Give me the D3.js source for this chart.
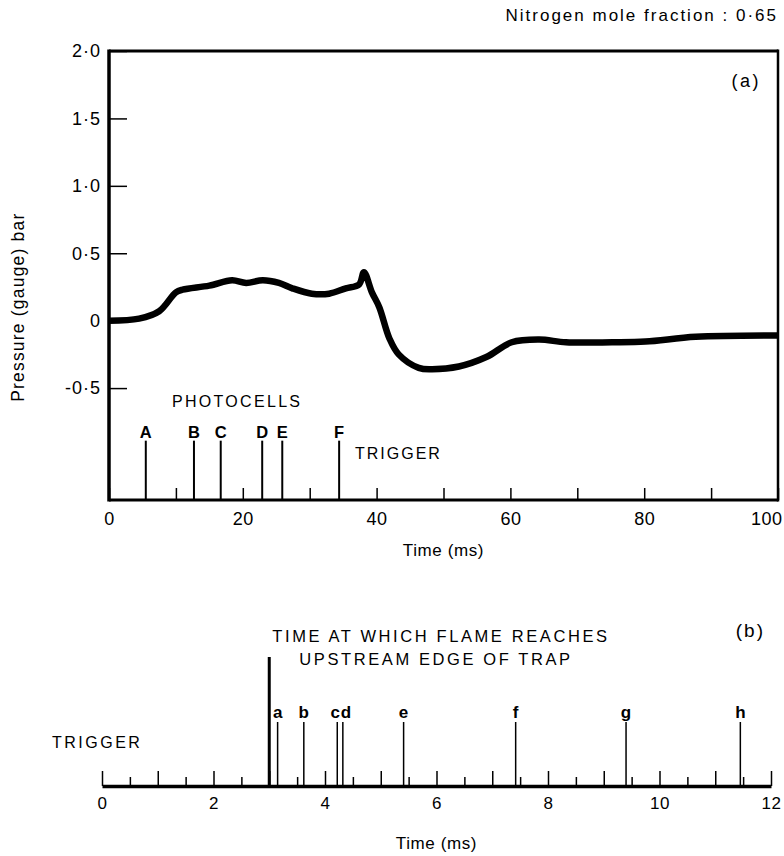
<!DOCTYPE html>
<html>
<head>
<meta charset="utf-8">
<script src="https://cdn.jsdelivr.net/npm/d3@7"></script>
<style>
  body { margin: 0; background: #fff; }
  svg { display: block; font-family: "Liberation Sans", Arial, sans-serif; }
  .tick line { stroke: #000; }
</style>
</head>
<body>
<svg id="chart" width="784" height="856"></svg>
<script>
// panel (a): pressure trace
const timeMs = [0, 4.5, 7.5, 10, 11, 15, 18.4, 20.5, 23, 25.4, 27.4, 30.3, 32.9, 35.4, 37.4, 38.1,
  39.3, 40.4, 41.9, 43.3, 46.3, 48.3, 52.3, 56.4, 60.2, 64.3, 68.3, 75.2, 80.2, 87.7, 100];
const pressure = [0, 0.015, 0.07, 0.21, 0.23, 0.26, 0.30, 0.28, 0.30, 0.28, 0.24, 0.20, 0.20, 0.24, 0.27, 0.36,
  0.21, 0.10, -0.13, -0.25, -0.35, -0.36, -0.34, -0.27, -0.16, -0.14, -0.16, -0.16, -0.155, -0.12, -0.11];

const photocellLabels = ['A', 'B', 'C', 'D', 'E', 'F'];
const photocellTimes = [5.5, 12.7, 16.7, 22.9, 25.9, 34.4];

const yTicks = [2, 1.5, 1, 0.5, 0, -0.5];
const yTickLabels = ['2·0', '1·5', '1·0', '0·5', '0', '-0·5'];
const xTicksA = [0, 10, 20, 30, 40, 50, 60, 70, 80, 90, 100];
const xLabelsA = ['0', '', '20', '', '40', '', '60', '', '80', '', '100'];

// panel (b): flame arrival times
const triggerTime = 3.0;
const flameLabels = ['a', 'b', 'c', 'd', 'e', 'f', 'g', 'h'];
const flameTimes = [3.15, 3.62, 4.22, 4.32, 5.41, 7.42, 9.40, 11.45];
const xMajorB = [0, 1, 2, 3, 4, 5, 6, 7, 8, 9, 10, 11, 12];
const xLabelsB = ['0', '', '2', '', '4', '', '6', '', '8', '', '10', '', '12'];
const xMinorB = [0.5, 1.5, 2.5, 3.5, 4.5, 5.5, 6.5, 7.5, 8.5, 9.5, 10.5, 11.5];

const svg = d3.select('#chart');

/*
 ** Panel (a)
 */
const xA = d3.scaleLinear().domain([0, 100]).range([109, 778]);
const yA = d3.scaleLinear().domain([-1.33, 2]).range([500, 51]);

svg.append('text')
  .attr('x', 778)
  .attr('y', 21)
  .attr('text-anchor', 'end')
  .attr('font-size', 17)
  .attr('letter-spacing', 2)
  .text('Nitrogen mole fraction  :  0·65');

// y axis, ticks pointing inwards
const yAxisA = svg.append('g')
  .attr('transform', `translate(${xA(0)}, 0)`)
  .call(d3.axisLeft(yA)
    .tickValues(yTicks)
    .tickSizeInner(-18)
    .tickSizeOuter(0)
    .tickPadding(8)
    .tickFormat((d, i) => yTickLabels[i]));
yAxisA.select('.domain').remove();
yAxisA.selectAll('text')
  .attr('font-size', 18)
  .attr('letter-spacing', 1)
  .attr('fill', '#000')
  .attr('font-family', null);
yAxisA.selectAll('line').attr('stroke-width', 1.5);

// x axis, ticks pointing up
const xAxisA = svg.append('g')
  .attr('transform', `translate(0, ${yA(-1.33)})`)
  .call(d3.axisBottom(xA)
    .tickValues(xTicksA)
    .tickSizeInner(-12)
    .tickSizeOuter(0)
    .tickPadding(12)
    .tickFormat((d, i) => xLabelsA[i]));
xAxisA.select('.domain').remove();
xAxisA.selectAll('text')
  .attr('font-size', 18)
  .attr('letter-spacing', 0.5)
  .attr('fill', '#000')
  .attr('font-family', null);
xAxisA.selectAll('.tick')
  .filter(d => d === 100)
  .select('text')
  .attr('text-anchor', 'end')
  .attr('x', 4);
xAxisA.selectAll('line').attr('stroke-width', 1.5);

// frame
const frame = svg.append('g').attr('stroke', '#000').attr('fill', 'none');
frame.append('line').attr('x1', xA(0)).attr('x2', xA(0)).attr('y1', yA(2) - 1.5).attr('y2', yA(-1.33) + 1.5).attr('stroke-width', 3.5);
frame.append('line').attr('x1', xA(0)).attr('x2', xA(100)).attr('y1', yA(2)).attr('y2', yA(2)).attr('stroke-width', 3);
frame.append('line').attr('x1', xA(100)).attr('x2', xA(100)).attr('y1', yA(2) - 1.5).attr('y2', yA(-1.33) + 1.5).attr('stroke-width', 2.5);
frame.append('line').attr('x1', xA(0)).attr('x2', xA(100)).attr('y1', yA(-1.33)).attr('y2', yA(-1.33)).attr('stroke-width', 3);

svg.append('text')
  .attr('x', 761)
  .attr('y', 87)
  .attr('text-anchor', 'end')
  .attr('font-size', 18)
  .attr('letter-spacing', 2.5)
  .text('(a)');

// pressure curve
const line = d3.line()
  .x((d, i) => xA(timeMs[i]))
  .y(d => yA(d))
  .curve(d3.curveCatmullRom.alpha(0.5));

svg.append('path')
  .datum(pressure)
  .attr('fill', 'none')
  .attr('stroke', '#000')
  .attr('stroke-width', 6.5)
  .attr('stroke-linejoin', 'round')
  .attr('d', line);

// photocell markers
const cellTop = yA(-0.89);
const cells = svg.append('g')
  .selectAll('g.cell')
  .data(photocellTimes)
  .enter()
  .append('g')
  .attr('class', 'cell');

cells.append('line')
  .attr('x1', d => xA(d))
  .attr('x2', d => xA(d))
  .attr('y1', cellTop)
  .attr('y2', yA(-1.33))
  .attr('stroke', '#000')
  .attr('stroke-width', 2);

cells.append('text')
  .attr('x', d => xA(d))
  .attr('y', cellTop - 3)
  .attr('text-anchor', 'middle')
  .attr('font-size', 16.5)
  .attr('font-weight', 'bold')
  .text((d, i) => photocellLabels[i]);

svg.append('text')
  .attr('x', 172)
  .attr('y', 407)
  .attr('font-size', 16)
  .attr('letter-spacing', 2.3)
  .text('PHOTOCELLS');

svg.append('text')
  .attr('x', 355)
  .attr('y', 459)
  .attr('font-size', 16)
  .attr('letter-spacing', 2)
  .text('TRIGGER');

svg.append('text')
  .attr('x', (xA(0) + xA(100)) / 2)
  .attr('y', 556)
  .attr('text-anchor', 'middle')
  .attr('font-size', 17)
  .attr('letter-spacing', 0.6)
  .text('Time (ms)');

svg.append('text')
  .attr('transform', `translate(24, ${yA(0.1)}) rotate(-90)`)
  .attr('text-anchor', 'middle')
  .attr('font-size', 17.5)
  .attr('letter-spacing', 1.2)
  .text('Pressure (gauge) bar');

/*
 ** Panel (b)
 */
const xB = d3.scaleLinear().domain([0, 12]).range([102, 771]);
const axisY = 786;

const minorB = svg.append('g')
  .attr('transform', `translate(0, ${axisY})`)
  .call(d3.axisBottom(xB)
    .tickValues(xMinorB)
    .tickSizeInner(-9)
    .tickSizeOuter(0)
    .tickFormat(''));
minorB.select('.domain').remove();
minorB.selectAll('line').attr('stroke-width', 1.5);

const majorB = svg.append('g')
  .attr('transform', `translate(0, ${axisY})`)
  .call(d3.axisBottom(xB)
    .tickValues(xMajorB)
    .tickSizeInner(-15)
    .tickSizeOuter(0)
    .tickPadding(11)
    .tickFormat((d, i) => xLabelsB[i]));
majorB.select('.domain')
  .attr('stroke', '#000')
  .attr('stroke-width', 3.5);
majorB.selectAll('line').attr('stroke-width', 1.5);
majorB.selectAll('text')
  .attr('font-size', 17)
  .attr('letter-spacing', 0.5)
  .attr('fill', '#000')
  .attr('font-family', null);

// trigger pulse
svg.append('line')
  .attr('x1', xB(triggerTime))
  .attr('x2', xB(triggerTime))
  .attr('y1', 657)
  .attr('y2', axisY)
  .attr('stroke', '#000')
  .attr('stroke-width', 3);

const flames = svg.append('g')
  .selectAll('g.flame')
  .data(flameTimes)
  .enter()
  .append('g')
  .attr('class', 'flame');

flames.append('line')
  .attr('x1', d => xB(d))
  .attr('x2', d => xB(d))
  .attr('y1', 722)
  .attr('y2', axisY)
  .attr('stroke', '#000')
  .attr('stroke-width', 1.5);

flames.append('text')
  .attr('x', (d, i) => flameLabels[i] === 'c' ? xB(d) - 2 : flameLabels[i] === 'd' ? xB(d) + 3 : xB(d))
  .attr('y', 718)
  .attr('text-anchor', 'middle')
  .attr('font-size', 17)
  .attr('font-weight', 'bold')
  .text((d, i) => flameLabels[i]);

svg.append('text')
  .attr('x', 52)
  .attr('y', 748)
  .attr('font-size', 16)
  .attr('letter-spacing', 2.5)
  .text('TRIGGER');

svg.append('text')
  .attr('x', 441)
  .attr('y', 642)
  .attr('text-anchor', 'middle')
  .attr('font-size', 16.5)
  .attr('letter-spacing', 2.6)
  .text('TIME AT WHICH FLAME REACHES');

svg.append('text')
  .attr('x', 436)
  .attr('y', 665)
  .attr('text-anchor', 'middle')
  .attr('font-size', 16.5)
  .attr('letter-spacing', 2.6)
  .text('UPSTREAM EDGE OF TRAP');

svg.append('text')
  .attr('x', 765)
  .attr('y', 637)
  .attr('text-anchor', 'end')
  .attr('font-size', 19)
  .attr('letter-spacing', 2)
  .text('(b)');

svg.append('text')
  .attr('x', (xB(0) + xB(12)) / 2)
  .attr('y', 849)
  .attr('text-anchor', 'middle')
  .attr('font-size', 17)
  .attr('letter-spacing', 0.6)
  .text('Time (ms)');
</script>
</body>
</html>
